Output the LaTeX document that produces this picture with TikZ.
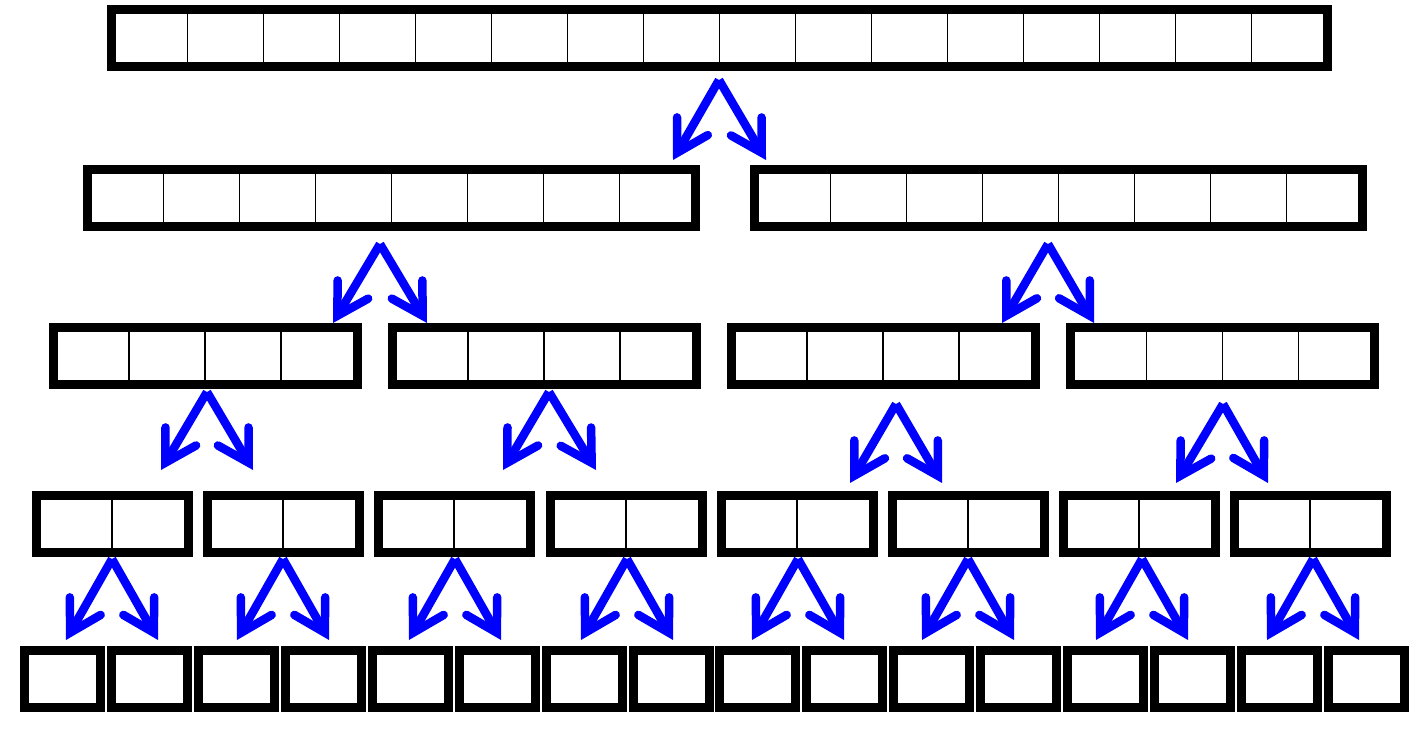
\documentclass[tikz,border=0pt]{standalone}
\usetikzlibrary{arrows.meta}
\tikzset{
  arr/.style={draw, line width=9pt, minimum height=57pt, inner sep=0pt, outer sep=0pt},
  sep/.style={line width=1.5pt},
  split/.style={blue, line width=8.5pt, -{Straight Barb[length=30.5pt,width=35.5pt,line join=miter,line cap=round]}}
}
\begin{document}
\begin{tikzpicture}[x=1pt,y=-1pt]
\useasboundingbox (0,0) rectangle (1420,733);
%whole array, 16 cells
\node[arr,minimum width=1216pt] (n) at (719.5,38) {};
\foreach \i in {1,...,15} \draw[sep] ([xshift=\i*76pt]n.north west) -- ([xshift=\i*76pt]n.south west);
%halves
\node[arr,minimum width=608pt] (n1) at (391.5,198) {};
\node[arr,minimum width=608pt] (n2) at (1058.5,198) {};
\foreach \a in {n1,n2} \foreach \i in {1,...,7} \draw[sep] ([xshift=\i*76pt]\a.north west) -- ([xshift=\i*76pt]\a.south west);
%quarters
\node[arr,minimum width=304pt] (n11) at (205,356) {};
\node[arr,minimum width=304pt] (n12) at (544,356) {};
\node[arr,minimum width=304pt] (n21) at (883,356) {};
\node[arr,minimum width=304pt] (n22) at (1222.5,356) {};
\foreach \a in {n11,n12,n21,n22} \foreach \i in {1,2,3} \draw[sep] ([xshift=\i*76pt]\a.north west) -- ([xshift=\i*76pt]\a.south west);
%eighths
\foreach \x [count=\i] in {112,283,454,626,797,968,1139,1310} {
  \node[arr,minimum width=152pt] (m\i) at (\x,523.5) {};
  \draw[sep] (m\i.north) -- (m\i.south);}
%single cells
\foreach \i in {0,...,15} \node[arr,minimum width=76pt] (s\i) at ({62.5+86.93*\i},678.5) {};
%split whole array
\coordinate (t) at (719,80); \coordinate (tl) at (673,160); \coordinate (tr) at (766,160);
\draw[split] (t) -- (tl); \draw[split] (t) -- (tr);
%split halves
\coordinate (t1) at (380,244); \coordinate (t1l) at (333,323); \coordinate (t1r) at (427,323);
\draw[split] (t1) -- (t1l); \draw[split] (t1) -- (t1r);
\coordinate (t2) at (1048,244); \coordinate (t2l) at (1002,323); \coordinate (t2r) at (1094,323);
\draw[split] (t2) -- (t2l); \draw[split] (t2) -- (t2r);
%split quarters
\coordinate (t11) at (207,392); \coordinate (t11l) at (161,470); \coordinate (t11r) at (253,470);
\draw[split] (t11) -- (t11l); \draw[split] (t11) -- (t11r);
\coordinate (t12) at (549,392); \coordinate (t12l) at (503,470); \coordinate (t12r) at (596,470);
\draw[split] (t12) -- (t12l); \draw[split] (t12) -- (t12r);
\coordinate (t21) at (896,404); \coordinate (t21l) at (850,483); \coordinate (t21r) at (942,483);
\draw[split] (t21) -- (t21l); \draw[split] (t21) -- (t21r);
\coordinate (t22) at (1223,404); \coordinate (t22l) at (1176,483); \coordinate (t22r) at (1268,483);
\draw[split] (t22) -- (t22l); \draw[split] (t22) -- (t22r);
%split eighths
\foreach \x [count=\i] in {112,283,455,627,798,968,1142,1313} {
  \coordinate (u\i) at (\x,559); \coordinate (ul\i) at ({\x-46},640); \coordinate (ur\i) at ({\x+46},640);
  \draw[split] (u\i) -- (ul\i); \draw[split] (u\i) -- (ur\i);}
\end{tikzpicture}
\end{document}
